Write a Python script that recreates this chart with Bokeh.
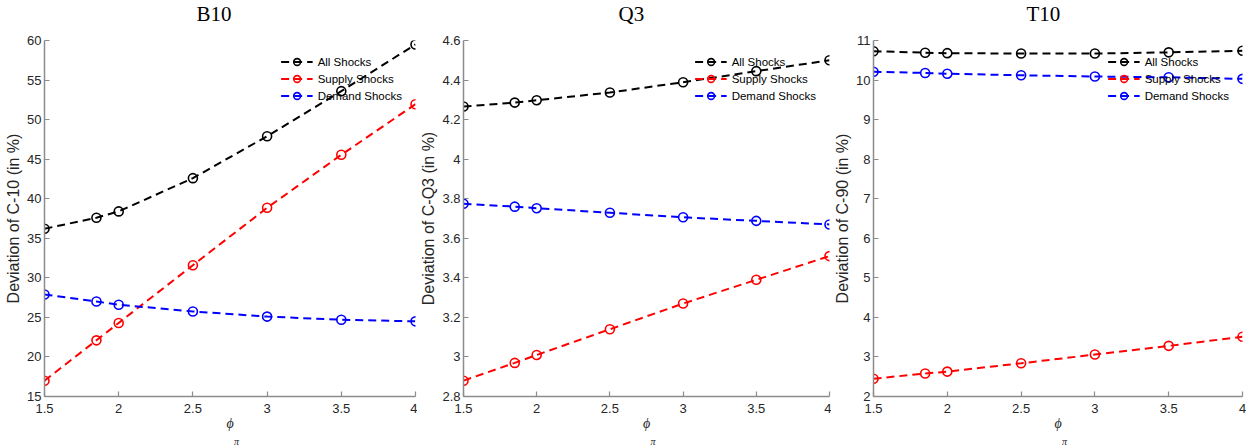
from bokeh.plotting import figure
from bokeh.layouts import row
from bokeh.models import FixedTicker, Legend, LegendItem, Title, Range1d
from bokeh.embed import file_html
from bokeh.resources import INLINE

# ---- data ----
phi = [1.5, 1.85, 2.0, 2.5, 3.0, 3.5, 4.0]

b10_all = [36.2, 37.6, 38.4, 42.6, 47.9, 53.6, 59.5]
b10_supply = [17.0, 22.1, 24.3, 31.6, 38.85, 45.55, 51.95]
b10_demand = [27.9, 27.0, 26.6, 25.75, 25.1, 24.7, 24.5]

q3_all = [4.266, 4.286, 4.298, 4.337, 4.389, 4.445, 4.50]
q3_supply = [2.88, 2.97, 3.01, 3.14, 3.27, 3.39, 3.51]
q3_demand = [3.775, 3.76, 3.752, 3.729, 3.706, 3.688, 3.67]

t10_all = [10.73, 10.69, 10.68, 10.67, 10.67, 10.70, 10.74]
t10_supply = [2.45, 2.58, 2.63, 2.84, 3.06, 3.28, 3.51]
t10_demand = [10.21, 10.18, 10.16, 10.12, 10.09, 10.07, 10.03]

series_names = ["All Shocks", "Supply Shocks", "Demand Shocks"]
series_colors = ["#000000", "#ff0000", "#0000ff"]

x_ticks = [1.5, 2.0, 2.5, 3.0, 3.5, 4.0]
x_tick_labels = ["1.5", "2", "2.5", "3", "3.5", "4"]

b10_yticks = [15, 20, 25, 30, 35, 40, 45, 50, 55, 60]
b10_ylabels = ["15", "20", "25", "30", "35", "40", "45", "50", "55", "60"]
q3_yticks = [2.8, 3.0, 3.2, 3.4, 3.6, 3.8, 4.0, 4.2, 4.4, 4.6]
q3_ylabels = ["2.8", "3", "3.2", "3.4", "3.6", "3.8", "4", "4.2", "4.4", "4.6"]
t10_yticks = [2, 3, 4, 5, 6, 7, 8, 9, 10, 11]
t10_ylabels = ["2", "3", "4", "5", "6", "7", "8", "9", "10", "11"]

titles = ["B10", "Q3", "T10"]
ylabels = ["Deviation of C-10 (in %)", "Deviation of C-Q3 (in %)", "Deviation of C-90 (in %)"]
xlabel_main = "\u03d5"
xlabel_sub = "\u03c0"

AXIS_COL = "#8c8c8c"
TEXT_COL = "#262626"
SANS = "Liberation Sans"
SERIF = "Liberation Serif"


def make_panel(title, title_off, ylab, yticks, ylabs, series, frame_w, bl, br):
    p = figure(frame_width=frame_w, frame_height=356,
               x_range=Range1d(x_ticks[0], x_ticks[-1]),
               y_range=Range1d(yticks[0], yticks[-1]),
               output_backend="svg", toolbar_location=None,
               min_border_left=bl, min_border_right=br,
               min_border_top=40, min_border_bottom=51)
    p.outline_line_color = None
    p.xgrid.visible = False
    p.ygrid.visible = False
    p.background_fill_color = "white"
    p.border_fill_color = "white"

    p.title.text = title
    p.title.align = "left"
    p.title.offset = title_off
    p.title.vertical_align = "top"
    p.title.standoff = 2
    p.title.text_font = SERIF
    p.title.text_font_size = "21px"
    p.title.text_font_style = "normal"
    p.title.text_color = "#000000"

    # thin spacer between title and frame, lifts the title upward
    spacer = Title(text=" ", text_font_size="9px", standoff=0)
    p.add_layout(spacer, "above")

    for ax in (p.xaxis[0], p.yaxis[0]):
        ax.axis_line_color = AXIS_COL
        ax.axis_line_width = 1.5
        ax.major_tick_line_color = AXIS_COL
        ax.major_tick_line_width = 1.2
        ax.major_tick_in = 5
        ax.major_tick_out = 0
        ax.minor_tick_line_color = None
        ax.major_label_text_font = SANS
        ax.major_label_text_font_size = "13px"
        ax.major_label_text_color = TEXT_COL
        ax.axis_label_text_font_style = "normal"
        ax.axis_label_text_color = TEXT_COL

    p.xaxis.ticker = FixedTicker(ticks=x_ticks)
    p.xaxis.major_label_overrides = {float(t): s for t, s in zip(x_ticks, x_tick_labels)}
    p.xaxis.major_label_standoff = 7
    p.xaxis.axis_label = xlabel_main
    p.xaxis.axis_label_text_font = SERIF
    p.xaxis.axis_label_text_font_style = "italic"
    p.xaxis.axis_label_text_font_size = "14px"
    p.xaxis.axis_label_standoff = 0

    sub = Title(text=xlabel_sub, align="left", offset=frame_w / 2 + 4,
                standoff=0, text_font=SERIF, text_font_style="italic",
                text_font_size="10px", text_color=TEXT_COL)
    p.add_layout(sub, "below")

    p.yaxis.ticker = FixedTicker(ticks=yticks)
    p.yaxis.major_label_overrides = {float(t): s for t, s in zip(yticks, ylabs)}
    p.yaxis.major_label_standoff = 3
    p.yaxis.axis_label = ylab
    p.yaxis.axis_label_text_font = SANS
    p.yaxis.axis_label_text_font_size = "16px"
    p.yaxis.axis_label_standoff = 2

    items = []
    for name, col, ys in zip(series_names, series_colors, series):
        l = p.line(phi, ys, line_color=col, line_width=2, line_dash="8 5")
        s = p.scatter(phi, ys, marker="circle", size=9, line_color=col,
                      line_width=1.6, fill_color=None)
        items.append(LegendItem(label=name, renderers=[l, s]))

    leg = Legend(items=items, location="top_right")
    leg.label_text_font = SANS
    leg.label_text_font_size = "11.5px"
    leg.label_text_color = "#000000"
    leg.glyph_width = 32
    leg.glyph_height = 17
    leg.label_height = 17
    leg.label_standoff = 5
    leg.spacing = 0
    leg.padding = 2
    leg.margin = 11
    leg.border_line_alpha = 0
    leg.background_fill_alpha = 0
    p.add_layout(leg)
    return p


p1 = make_panel(titles[0], 152, ylabels[0], b10_yticks, b10_ylabels,
                [b10_all, b10_supply, b10_demand], 371, 44, 2)
p2 = make_panel(titles[1], 155, ylabels[1], q3_yticks, q3_ylabels,
                [q3_all, q3_supply, q3_demand], 366, 42, 2)
p3 = make_panel(titles[2], 153, ylabels[2], t10_yticks, t10_ylabels,
                [t10_all, t10_supply, t10_demand], 369, 40, 5)

layout = row(p1, p2, p3, spacing=0)
open("out.html", "w").write(file_html(layout, INLINE))
